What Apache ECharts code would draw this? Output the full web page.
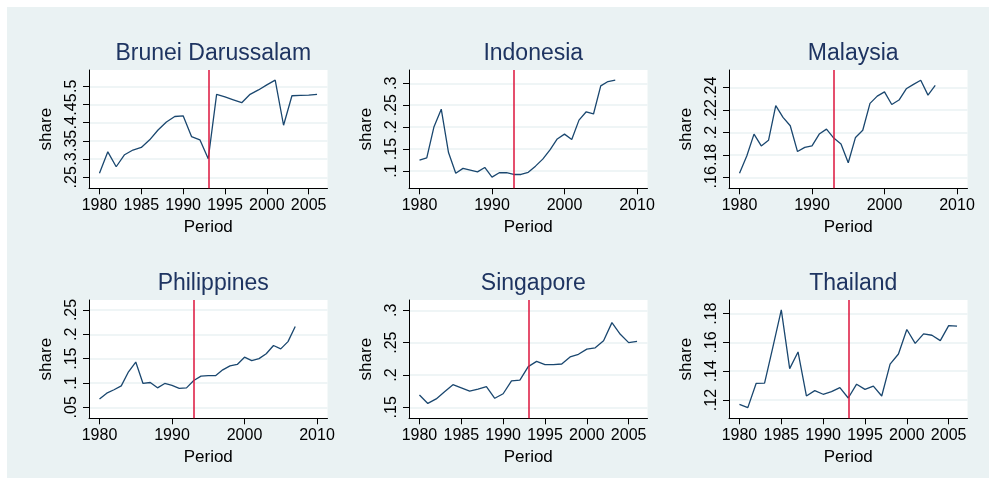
<!DOCTYPE html>
<html>
<head>
<meta charset="utf-8">
<script src="https://cdn.jsdelivr.net/npm/echarts@6/dist/echarts.min.js"></script>
<style>
html,body{margin:0;padding:0;background:#fff;}
#chart{width:989px;height:478px;}
</style>
</head>
<body>
<div id="chart"></div>
<script>
// ---- data ----
const years = [1980,1981,1982,1983,1984,1985,1986,1987,1988,1989,1990,1991,1992,1993,1994,1995,1996,1997,1998,1999,2000,2001,2002,2003,2004,2005,2006,2007];
const countries = ["Brunei Darussalam","Indonesia","Malaysia","Philippines","Singapore","Thailand"];
const bruneiShare = [0.261,0.320,0.279,0.312,0.325,0.332,0.353,0.380,0.402,0.417,0.419,0.362,0.353,0.301,0.478,0.471,0.463,0.455,0.478,0.490,0.504,0.517,0.393,0.474,0.475,0.476,0.478];
const indonesiaShare = [0.125,0.130,0.201,0.241,0.142,0.095,0.106,0.102,0.098,0.108,0.086,0.096,0.096,0.092,0.092,0.097,0.111,0.127,0.148,0.173,0.184,0.172,0.216,0.235,0.230,0.294,0.304,0.307];
const malaysiaShare = [0.1636,0.179,0.1986,0.188,0.193,0.224,0.2135,0.206,0.183,0.1867,0.188,0.1986,0.203,0.195,0.1897,0.173,0.1956,0.202,0.226,0.2325,0.2363,0.225,0.229,0.239,0.243,0.2467,0.2334,0.242];
const philippinesShare = [0.067,0.079,0.086,0.094,0.123,0.143,0.099,0.101,0.090,0.099,0.095,0.089,0.090,0.105,0.114,0.115,0.115,0.127,0.135,0.138,0.153,0.146,0.150,0.160,0.177,0.170,0.185,0.216];
const singaporeShare = [0.169,0.156,0.163,0.174,0.185,0.180,0.175,0.178,0.182,0.164,0.171,0.191,0.192,0.213,0.221,0.216,0.216,0.217,0.228,0.232,0.240,0.242,0.253,0.281,0.263,0.250,0.252];
const thailandShare = [0.117,0.1147,0.1316,0.1318,0.157,0.1826,0.1418,0.1534,0.1228,0.1265,0.124,0.1258,0.1286,0.1214,0.131,0.1274,0.1297,0.1228,0.145,0.152,0.169,0.1594,0.166,0.165,0.1613,0.1717,0.1713];
const breakYear = 1993;
// tick labels
const xTicks5 = [1980,1985,1990,1995,2000,2005];
const xTicks10 = [1980,1990,2000,2010];
const bruneiYTicks = [0.25,0.3,0.35,0.4,0.45,0.5];
const indonesiaYTicks = [0.1,0.15,0.2,0.25,0.3];
const malaysiaYTicks = [0.16,0.18,0.2,0.22,0.24];
const philippinesYTicks = [0.05,0.1,0.15,0.2,0.25];
const singaporeYTicks = [0.15,0.2,0.25,0.3];
const thailandYTicks = [0.12,0.14,0.16,0.18];
const seriesData = [bruneiShare, indonesiaShare, malaysiaShare, philippinesShare, singaporeShare, thailandShare];
const yTickSets = [bruneiYTicks, indonesiaYTicks, malaysiaYTicks, philippinesYTicks, singaporeYTicks, thailandYTicks];
const xTickSets = [xTicks5, xTicks10, xTicks10, xTicks10, xTicks5, xTicks5];

// ---- layout / style ----
const yRanges = [[0.2198,0.5448],[0.0605,0.3303],[0.1502,0.2558],[0.0274,0.2705],[0.133,0.316],[0.1073,0.1895]];
const xRanges5 = [1978.75,2007.25];
const xRanges10 = [1978.55,2011.45];
const lefts = [89,409,729];
const tops = [70,300];
const gw = 238.5, gh = 118.3;
const FONT = "'Liberation Sans', Arial, sans-serif";
const NAVY = '#1a476f';
const BG = '#eaf2f3';

const chart = echarts.init(document.getElementById('chart'), null, {renderer:'canvas'});
const grids=[], xAxes=[], yAxes=[], series=[], titles=[];
const fmtY = v => String(+Number(v).toFixed(4)).replace(/^0\./,'.');
for (let i=0;i<6;i++){
  const col=i%3, row=Math.floor(i/3);
  grids.push({left:lefts[col], top:tops[row], width:gw, height:gh, show:true, backgroundColor:'#fff', borderWidth:0, containLabel:false});
  titles.push({text:countries[i], left:lefts[col]+gw/2, top:tops[row]-33, textAlign:'center',
    textStyle:{fontFamily:FONT, fontSize:23, fontWeight:'normal', color:'#1e3461'}});
  const xr = xTickSets[i]===xTicks5 ? xRanges5 : xRanges10;
  xAxes.push({type:'value', gridIndex:i, min:xr[0], max:xr[1],
    name:'Period', nameLocation:'middle', nameGap:31,
    nameTextStyle:{fontFamily:FONT, fontSize:17, color:'#000'},
    axisLine:{show:true, onZero:false, lineStyle:{color:'#000', width:1}},
    axisTick:{show:true, length:6, customValues:xTickSets[i], lineStyle:{color:'#000'}},
    axisLabel:{customValues:xTickSets[i], hideOverlap:false, showMinLabel:true, showMaxLabel:true, fontFamily:FONT, fontSize:16, color:'#000', margin:9, formatter:v=>String(v)},
    splitLine:{show:false}});
  yAxes.push({type:'value', gridIndex:i, min:yRanges[i][0], max:yRanges[i][1],
    name:'share', nameLocation:'middle', nameRotate:90, nameGap:34,
    nameTextStyle:{fontFamily:FONT, fontSize:17, color:'#000'},
    axisLine:{show:true, onZero:false, lineStyle:{color:'#000', width:1}},
    axisTick:{show:true, length:6, customValues:yTickSets[i], lineStyle:{color:'#000'}},
    axisLabel:{customValues:yTickSets[i], hideOverlap:false, showMinLabel:true, showMaxLabel:true, rotate:90, fontFamily:FONT, fontSize:16, color:'#000', margin:9, formatter:fmtY},
    splitLine:{show:true, lineStyle:{color:BG, width:1.5}}});
  series.push({type:'line', xAxisIndex:i, yAxisIndex:i, showSymbol:false, symbol:'none', silent:true,
    lineStyle:{color:NAVY, width:1.3}, itemStyle:{color:NAVY},
    data: seriesData[i].map((v,k)=>[years[k], v]),
    markLine:{silent:true, symbol:['none','none'], label:{show:false},
      lineStyle:{color:'#dc143c', width:1.5, type:'solid'}, data:[{xAxis:breakYear}]}});
}
chart.setOption({
  animation:false,
  backgroundColor:'#fff',
  graphic:[{type:'rect', shape:{x:7,y:7,width:982,height:471}, style:{fill:BG}, z:-10, silent:true}],
  title:titles, grid:grids, xAxis:xAxes, yAxis:yAxes, series:series
});
</script>
</body>
</html>
